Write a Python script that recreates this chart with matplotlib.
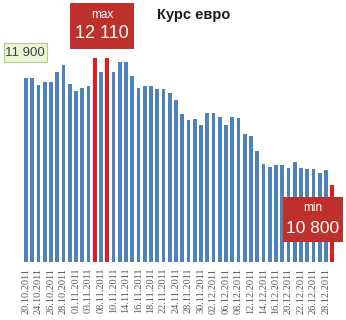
import numpy as np
import matplotlib
matplotlib.use("Agg")
import matplotlib.pyplot as plt
from matplotlib.patches import Rectangle

# Data
dates = ["20.10.2011", "21.10.2011", "24.10.2011", "25.10.2011", "26.10.2011",
         "27.10.2011", "28.10.2011", "31.10.2011", "01.11.2011", "02.11.2011",
         "03.11.2011", "07.11.2011", "08.11.2011", "09.11.2011", "10.11.2011",
         "11.11.2011", "14.11.2011", "15.11.2011", "16.11.2011", "17.11.2011",
         "18.11.2011", "21.11.2011", "22.11.2011", "23.11.2011", "24.11.2011",
         "25.11.2011", "28.11.2011", "29.11.2011", "30.11.2011", "01.12.2011",
         "02.12.2011", "05.12.2011", "06.12.2011", "07.12.2011", "08.12.2011",
         "09.12.2011", "12.12.2011", "13.12.2011", "14.12.2011", "15.12.2011",
         "16.12.2011", "19.12.2011", "20.12.2011", "21.12.2011", "22.12.2011",
         "23.12.2011", "26.12.2011", "27.12.2011", "28.12.2011", "29.12.2011"]
rate = [11900, 11900, 11830, 11860, 11860, 11960, 12030, 11840, 11770, 11795,
        11820, 12110, 11960, 12110, 11965, 12060, 12060, 11925, 11795, 11820,
        11820, 11790, 11790, 11740, 11670, 11525, 11465, 11480, 11410, 11540,
        11540, 11495, 11420, 11495, 11485, 11320, 11305, 11145, 11010, 10985,
        11000, 11005, 10970, 11030, 10970, 10958, 10958, 10925, 10948, 10800]

blue = "#4f81bd"
red = "#e41a1c"

plt.rcParams['font.family'] = ['Liberation Sans', 'DejaVu Sans']

fig = plt.figure(figsize=(3.46, 3.2), dpi=100)
ax = fig.add_axes([22.9 / 346, 1 - 262.3 / 320, 312.5 / 346, 252.3 / 320])

x = np.arange(len(rate))
vmax = max(rate)
vmin = min(rate)
colors = [red if (v == vmax or v == vmin) else blue for v in rate]
ax.bar(x, rate, width=0.62, color=colors, zorder=2)

ax.set_xlim(-0.5, len(rate) - 0.5)
ax.set_ylim(10000, 12600)
ax.set_yticks([])
ax.set_xticks(x[::2])
ax.set_xticklabels(dates[::2], rotation=90, family='Liberation Serif',
                   fontsize=7.4, color='#595959')
ax.tick_params(axis='x', length=0, pad=4)
for s in ax.spines.values():
    s.set_visible(False)

# title
fig.text(193.5 / 346, 1 - 15 / 320, "Курс евро", ha='center', va='center',
         fontsize=10.5, fontweight='bold', color='#1a1a1a')

# first value box
fig.patches.append(Rectangle((4 / 346, 1 - 61.7 / 320), 42.7 / 346, 18.4 / 320,
                             transform=fig.transFigure, facecolor='#ecf4d8',
                             edgecolor='#b4cc88', linewidth=0.8, zorder=5))
fig.text(25.3 / 346, 1 - 52.5 / 320, "11 900", ha='center', va='center',
         fontsize=9.5, color='#404040', zorder=6)

# max box
fig.patches.append(Rectangle((70 / 346, 1 - 49.3 / 320), 64 / 346, 46 / 320,
                             transform=fig.transFigure, facecolor='#bd302c',
                             edgecolor='none', zorder=5))
fig.text(102 / 346, 1 - 14.5 / 320, "max", ha='center', va='center',
         fontsize=8.5, color='white', zorder=6)
fig.text(102 / 346, 1 - 33.5 / 320, "12 110", ha='center', va='center',
         fontsize=13, color='white', zorder=6)

# min box
fig.patches.append(Rectangle((282.7 / 346, 1 - 241.7 / 320), 60 / 346, 45 / 320,
                             transform=fig.transFigure, facecolor='#bd302c',
                             edgecolor='none', zorder=5))
fig.text(312.7 / 346, 1 - 208 / 320, "min", ha='center', va='center',
         fontsize=8.5, color='white', zorder=6)
fig.text(312.7 / 346, 1 - 228.5 / 320, "10 800", ha='center', va='center',
         fontsize=12.5, color='white', zorder=6)

fig.savefig("out.png", dpi=100)
